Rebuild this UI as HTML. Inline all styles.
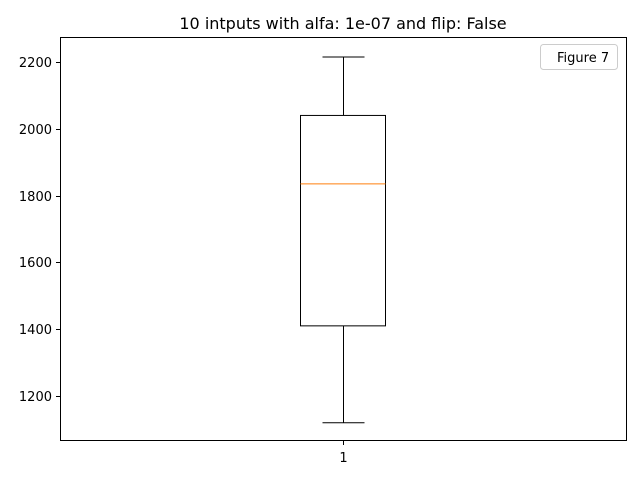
<!DOCTYPE html>
<html><head><meta charset="utf-8"><style>
body{margin:0;background:#fff;font-family:"Liberation Sans","DejaVu Sans",sans-serif}
</style></head><body>
<svg width="640" height="480" xmlns="http://www.w3.org/2000/svg">
<rect x="0" y="0" width="640" height="480" fill="#fff"/>
<text x="343" y="29" font-size="16" text-anchor="middle" fill="#000" font-family="DejaVu Sans, Liberation Sans, sans-serif">10 intputs with alfa:  1e-07 and flip: False</text>
<g id="plot"></g>
<rect x="60.5" y="37.5" width="566" height="403" fill="none" stroke="#000" stroke-width="1"/>
<g>
<rect x="540.5" y="44.5" width="77" height="25" rx="3" fill="#fff" stroke="#ccc"/>
<text x="557" y="62" font-size="13" fill="#000" font-family="DejaVu Sans, Liberation Sans, sans-serif">Figure 7</text>
</g>
</svg>
<script>
const yTicks=[1200,1400,1600,1800,2000,2200];
const xLabels=["1"];
const whiskerHigh=[2215];
const q3=[2040];
const median=[1835];
const q1=[1410];
const whiskerLow=[1120];
const ns="http://www.w3.org/2000/svg";
const g=document.getElementById('plot');
function y(v){return 396-(v-1200)*(334/1000);}
function x(i){return 343;}
function el(t,a){const e=document.createElementNS(ns,t);for(const k in a)e.setAttribute(k,a[k]);g.appendChild(e);return e;}
yTicks.forEach(v=>{
  const yy=Math.round(y(v))+0.5;
  const l=el('line',{x1:56,x2:60,y1:yy,y2:yy,stroke:'#000'});
  
  
  const t=el('text',{x:52,y:yy+4.5,'font-size':13,'text-anchor':'end','font-family':'DejaVu Sans, Liberation Sans, sans-serif'});
  t.textContent=v;
  
  
});
xLabels.forEach((lab,i)=>{
  const cx=x(i)+0.5;
  const l=el('line',{x1:cx,x2:cx,y1:441,y2:445,stroke:'#000'});
  
  
  const t=el('text',{x:cx,y:462,'font-size':13,'text-anchor':'middle','font-family':'DejaVu Sans, Liberation Sans, sans-serif'});
  t.textContent=lab;
  
  
  const bx=x(i)-42.5, bw=85;
  const box=el('rect',{x:bx,y:y(q3[i]),width:bw,height:y(q1[i])-y(q3[i]),fill:'none',stroke:'#000'});
  
  
  const md=el('line',{x1:bx,x2:bx+bw,y1:y(median[i]),y2:y(median[i]),stroke:'#ff7f0e'});
  
  
  const w1=el('line',{x1:cx,x2:cx,y1:y(q3[i]),y2:y(whiskerHigh[i]),stroke:'#000'});
  
  
  const w2=el('line',{x1:cx,x2:cx,y1:y(q1[i]),y2:y(whiskerLow[i]),stroke:'#000'});
  
  
  const c1=el('line',{x1:cx-21,x2:cx+21,y1:y(whiskerHigh[i]),y2:y(whiskerHigh[i]),stroke:'#000'});
  
  
  const c2=el('line',{x1:cx-21,x2:cx+21,y1:y(whiskerLow[i]),y2:y(whiskerLow[i]),stroke:'#000'});
  
  
});
</script>
</body></html>
